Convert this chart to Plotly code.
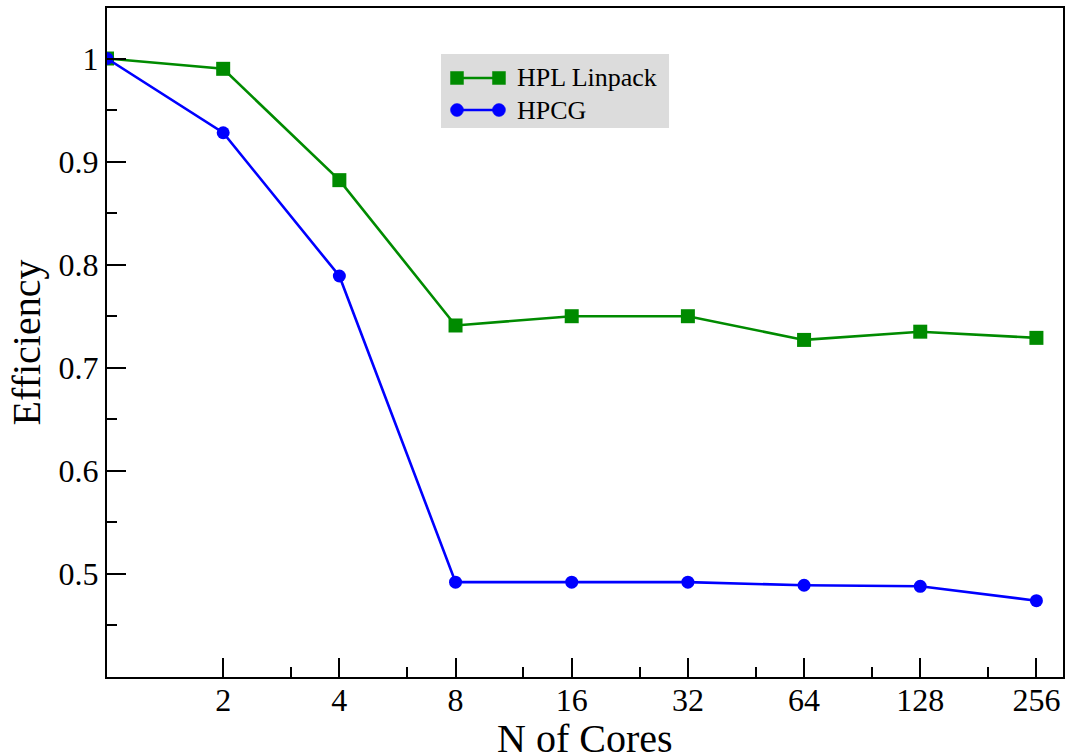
import plotly.graph_objects as go

# Number of cores (log2 spaced) and parallel efficiency for each benchmark
cores = [1, 2, 4, 8, 16, 32, 64, 128, 256]
hpl_eff = [1.000, 0.990, 0.882, 0.741, 0.750, 0.750, 0.727, 0.735, 0.729]
hpcg_eff = [1.000, 0.928, 0.789, 0.492, 0.492, 0.492, 0.489, 0.488, 0.474]

series_names = ["HPL Linpack", "HPCG"]

x_tick_vals = [2, 4, 8, 16, 32, 64, 128, 256]
x_tick_text = ["2", "4", "8", "16", "32", "64", "128", "256"]
x_minor_vals = [3, 6, 12, 24, 48, 96, 192]
y_tick_vals = [0.5, 0.6, 0.7, 0.8, 0.9, 1.0]
y_tick_text = ["0.5", "0.6", "0.7", "0.8", "0.9", "1"]
y_minor_vals = [0.45, 0.55, 0.65, 0.75, 0.85, 0.95]

GREEN = "#008b00"
BLUE = "#0000ff"
SERIF = "Liberation Serif"
LINE_W = 2.6

fig = go.Figure()
fig.add_trace(go.Scatter(
    x=cores, y=hpl_eff, name=series_names[0], mode="lines+markers",
    line=dict(color=GREEN, width=LINE_W),
    marker=dict(symbol="square", size=14, color=GREEN),
    showlegend=False,
))
fig.add_trace(go.Scatter(
    x=cores, y=hpcg_eff, name=series_names[1], mode="lines+markers",
    line=dict(color=BLUE, width=LINE_W),
    marker=dict(symbol="circle", size=13, color=BLUE),
    showlegend=False,
))

axis_common = dict(
    showline=True, linecolor="black", linewidth=2, mirror=True,
    ticks="inside", tickcolor="black", tickwidth=1.8, ticklen=19,
    showgrid=False, zeroline=False,
    tickfont=dict(family=SERIF, size=32, color="black"),
)
minor_common = dict(tickmode="array", ticks="inside", ticklen=10,
                    tickwidth=1.8, tickcolor="black", showgrid=False)

fig.update_xaxes(
    type="log", range=[0, 2.4771],
    tickmode="array", tickvals=x_tick_vals, ticktext=x_tick_text,
    minor=dict(tickvals=x_minor_vals, **minor_common),
    ticklabelstandoff=-6,
    **axis_common,
)
fig.update_yaxes(
    range=[0.4, 1.049],
    tickmode="array", tickvals=y_tick_vals, ticktext=y_tick_text,
    minor=dict(tickvals=y_minor_vals, **minor_common),
    title=dict(text="Efficiency", font=dict(family=SERIF, size=40, color="black"), standoff=6),
    **axis_common,
)

# x-axis title sits just below the tick labels, running to the page edge
fig.add_annotation(x=0.5, y=-0.0553, xref="paper", yref="paper",
                   text="N of Cores", showarrow=False,
                   xanchor="center", yanchor="top",
                   font=dict(family=SERIF, size=40, color="black"))

# Legend box drawn in paper coordinates: grey panel, line sample with a marker at each end
box = dict(x0=0.3494, x1=0.5879, y0=0.8206, y1=0.9312)
rows_y = [0.8954, 0.8475]
sample_x = [0.3661, 0.4100]
text_x = 0.4268
legend_styles = [(GREEN, "square"), (BLUE, "circle")]

fig.add_shape(type="rect", xref="paper", yref="paper", line_width=0,
              fillcolor="#dcdcdc", layer="below", **box)
for name, yy, (color, sym) in zip(series_names, rows_y, legend_styles):
    fig.add_shape(type="line", xref="paper", yref="paper",
                  x0=sample_x[0], x1=sample_x[1], y0=yy, y1=yy,
                  line=dict(color=color, width=LINE_W))
    for xx in sample_x:
        half = 6.5
        fig.add_shape(type="rect" if sym == "square" else "circle",
                      xref="paper", yref="paper",
                      xsizemode="pixel", ysizemode="pixel",
                      xanchor=xx, yanchor=yy,
                      x0=-half, x1=half, y0=-half, y1=half,
                      fillcolor=color, line=dict(color=color, width=0.5))
    fig.add_annotation(x=text_x, y=yy, xref="paper", yref="paper",
                       text=name, showarrow=False, xanchor="left", yanchor="middle",
                       font=dict(family=SERIF, size=26, color="black"))

fig.update_layout(
    width=1066, height=754,
    margin=dict(l=107, r=3, t=8, b=77, autoexpand=False),
    plot_bgcolor="white", paper_bgcolor="white",
    showlegend=False,
)

fig.write_html("out.html")
